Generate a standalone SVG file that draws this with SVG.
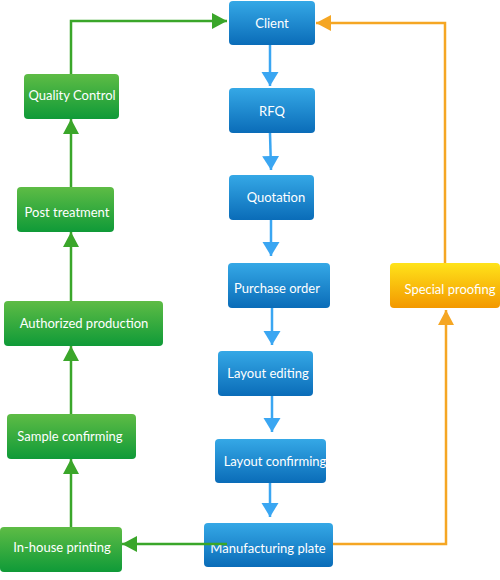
<svg xmlns="http://www.w3.org/2000/svg" width="500" height="580" viewBox="0 0 500 580">
<defs>
<linearGradient id="gBlue" x1="0" y1="0" x2="0" y2="1">
<stop offset="0" stop-color="#35a8e6"/>
<stop offset="1" stop-color="#0a6cb8"/>
</linearGradient>
<linearGradient id="gGreen" x1="0" y1="0" x2="0" y2="1">
<stop offset="0" stop-color="#5ebc45"/>
<stop offset="1" stop-color="#0f9a38"/>
</linearGradient>
<linearGradient id="gOrange" x1="0" y1="0" x2="0" y2="1">
<stop offset="0" stop-color="#ffe31a"/>
<stop offset="1" stop-color="#f39800"/>
</linearGradient>
<marker id="aBlue" markerWidth="15" markerHeight="18" refX="14" refY="9" orient="auto" markerUnits="userSpaceOnUse">
<path d="M0,0.5 L14,9 L0,17.5 Z" fill="#3aa6f2"/>
</marker>
<marker id="aGreen" markerWidth="17" markerHeight="16" refX="15" refY="8" orient="auto" markerUnits="userSpaceOnUse">
<path d="M0,0 L15,8 L0,16 Z" fill="#3aa62a"/>
</marker>
<marker id="aOrange" markerWidth="17" markerHeight="16" refX="15" refY="8" orient="auto" markerUnits="userSpaceOnUse">
<path d="M0,0 L15,8 L0,16 Z" fill="#f5a623"/>
</marker>
</defs>
<style>
.b{fill:url(#gBlue)}
.g{fill:url(#gGreen)}
.o{fill:url(#gOrange)}
text{font-family:Lato,"Open Sans","Liberation Sans",sans-serif;font-size:13px;fill:#ffffff;text-anchor:middle;dominant-baseline:central}
.cb{stroke:#3aa6f2;stroke-width:2.5;fill:none;marker-end:url(#aBlue)}
.cg{stroke:#3aa62a;stroke-width:2.5;fill:none;marker-end:url(#aGreen)}
.co{stroke:#f5a623;stroke-width:2.5;fill:none;marker-end:url(#aOrange)}
</style>
<g id="n-client"><rect class="b" x="229" y="1" width="86" height="44" rx="4"/><text x="272" y="23">Client</text></g>
<g id="n-rfq"><rect class="b" x="229" y="88" width="86" height="45" rx="4"/><text x="272" y="111">RFQ</text></g>
<g id="n-quotation"><rect class="b" x="229" y="175" width="85" height="45" rx="4"/><text x="276" y="197">Quotation</text></g>
<g id="n-po"><rect class="b" x="228" y="263" width="102" height="45" rx="4"/><text x="277" y="288">Purchase order</text></g>
<g id="n-le"><rect class="b" x="218" y="351" width="95" height="45" rx="4"/><text x="268" y="373">Layout editing</text></g>
<g id="n-lc"><rect class="b" x="215" y="439" width="111" height="44" rx="4"/><text x="275" y="461">Layout confirming</text></g>
<g id="n-mp"><rect class="b" x="204" y="523" width="129" height="44" rx="4"/><text x="268" y="548">Manufacturing plate</text></g>
<g id="n-sp"><rect class="o" x="390" y="263" width="110" height="45" rx="4"/><text x="450" y="289">Special proofing</text></g>
<g id="n-qc"><rect class="g" x="24" y="74" width="95" height="45" rx="4"/><text x="72" y="95">Quality Control</text></g>
<g id="n-pt"><rect class="g" x="17" y="187" width="97" height="45" rx="4"/><text x="67" y="212">Post treatment</text></g>
<g id="n-ap"><rect class="g" x="4" y="301" width="159" height="45" rx="4"/><text x="84" y="323">Authorized production</text></g>
<g id="n-sc"><rect class="g" x="7" y="414" width="129" height="45" rx="4"/><text x="70" y="436">Sample confirming</text></g>
<g id="n-ih"><rect class="g" x="0" y="527" width="122" height="45" rx="4"/><text x="62" y="547">In-house printing</text></g>
<g id="connectors">
<path class="cb" d="M270,45 L270,86"/>
<path class="cb" d="M270,133 L271,170"/>
<path class="cb" d="M271,220 L271,256"/>
<path class="cb" d="M272,308 L272,345"/>
<path class="cb" d="M272,396 L272,432"/>
<path class="cb" d="M270,483 L270,517"/>
<path class="cg" d="M227,544 L122,544"/>
<path class="cg" d="M71,527 L71,459"/>
<path class="cg" d="M71,414 L71,346"/>
<path class="cg" d="M71,301 L71,232"/>
<path class="cg" d="M71,187 L71,119"/>
<path class="cg" d="M71,74 L71,21 L227,21"/>
<path class="co" d="M333,544 L446,544 L446,310"/>
<path class="co" d="M445,263 L445,23 L316,23"/>
</g>
</svg>
